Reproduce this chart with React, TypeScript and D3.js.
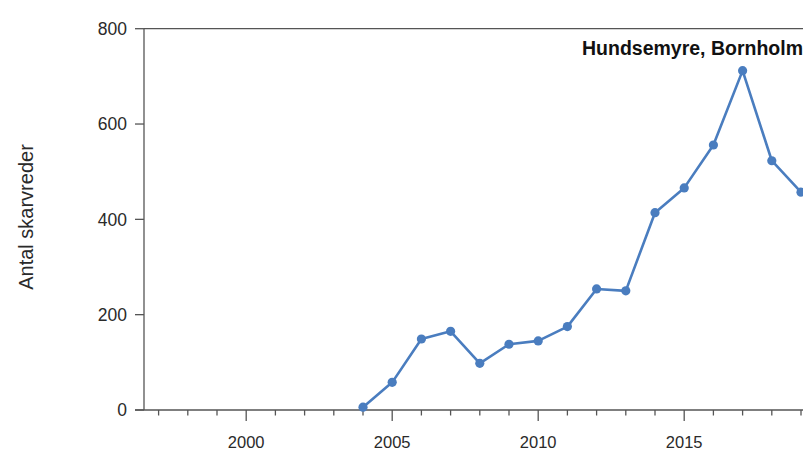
import React from "react";
import * as d3 from "d3";

const years = [2004, 2005, 2006, 2007, 2008, 2009, 2010, 2011, 2012, 2013, 2014, 2015, 2016, 2017, 2018, 2019];
const counts = [6, 58, 149, 165, 98, 138, 145, 175, 254, 250, 414, 466, 556, 712, 523, 457];
const yTicks = [0, 200, 400, 600, 800];
const xMajorTicks = [2000, 2005, 2010, 2015];
const xMinorTicks = d3.range(1997, 2021);
const title = "Hundsemyre, Bornholm";
const yLabel = "Antal skarvreder";

export default function App() {
  const W = 803, H = 452;
  const x = d3.scaleLinear().domain([1996.5, 2020.5]).range([144, 144 + 24 * 29.2]);
  const y = d3.scaleLinear().domain([0, 800]).range([410, 28.7]);
  const data = years.map((yr, i) => ({ yr, v: counts[i] }));
  const line = d3.line<{ yr: number; v: number }>().x(d => x(d.yr)).y(d => y(d.v));
  const axisColor = "#555";
  const font = "'Liberation Sans', Arial, sans-serif";
  const blue = "#4a7dbf";
  return (
    <svg width={W} height={H} style={{ position: "absolute", left: 0, top: 0, background: "#fff" }} fontFamily={font}>
      <rect x={0} y={0} width={W} height={H} fill="#fff" />
      <line x1={x(1996.5)} x2={W} y1={y(800)} y2={y(800)} stroke={axisColor} strokeWidth={1.3} />
      <line x1={x(1996.5)} x2={x(1996.5)} y1={y(800)} y2={y(0)} stroke={axisColor} strokeWidth={1.3} />
      <line x1={x(1996.5) - 9} x2={W} y1={y(0)} y2={y(0)} stroke={axisColor} strokeWidth={1.3} />
      {yTicks.map(t => (
        <g key={t}>
          <line x1={x(1996.5) - 9} x2={x(1996.5)} y1={y(t)} y2={y(t)} stroke={axisColor} strokeWidth={1.3} />
          <text x={127} y={y(t)} dy="0.36em" textAnchor="end" fontSize={17.5} fill="#2a2a2a">{t}</text>
        </g>
      ))}
      {xMinorTicks.map(t => (
        <line key={t} x1={x(t)} x2={x(t)} y1={y(0)} y2={y(0) + (xMajorTicks.includes(t) ? 11 : 5.5)} stroke={axisColor} strokeWidth={1.3} />
      ))}
      {xMajorTicks.map(t => (
        <text key={t} x={x(t)} y={448} textAnchor="middle" fontSize={16.5} fill="#2a2a2a">{t}</text>
      ))}
      <text transform={`translate(33,217) rotate(-90)`} textAnchor="middle" fontSize={20} fill="#2a2a2a">{yLabel}</text>
      <text x={582} y={55} fontSize={19.5} fontWeight="bold" fill="#111">{title}</text>
      <path d={line(data) || ""} fill="none" stroke={blue} strokeWidth={2.6} strokeLinejoin="round" />
      {data.map(d => (
        <circle key={d.yr} cx={x(d.yr)} cy={y(d.v)} r={4.6} fill={blue} />
      ))}
    </svg>
  );
}
